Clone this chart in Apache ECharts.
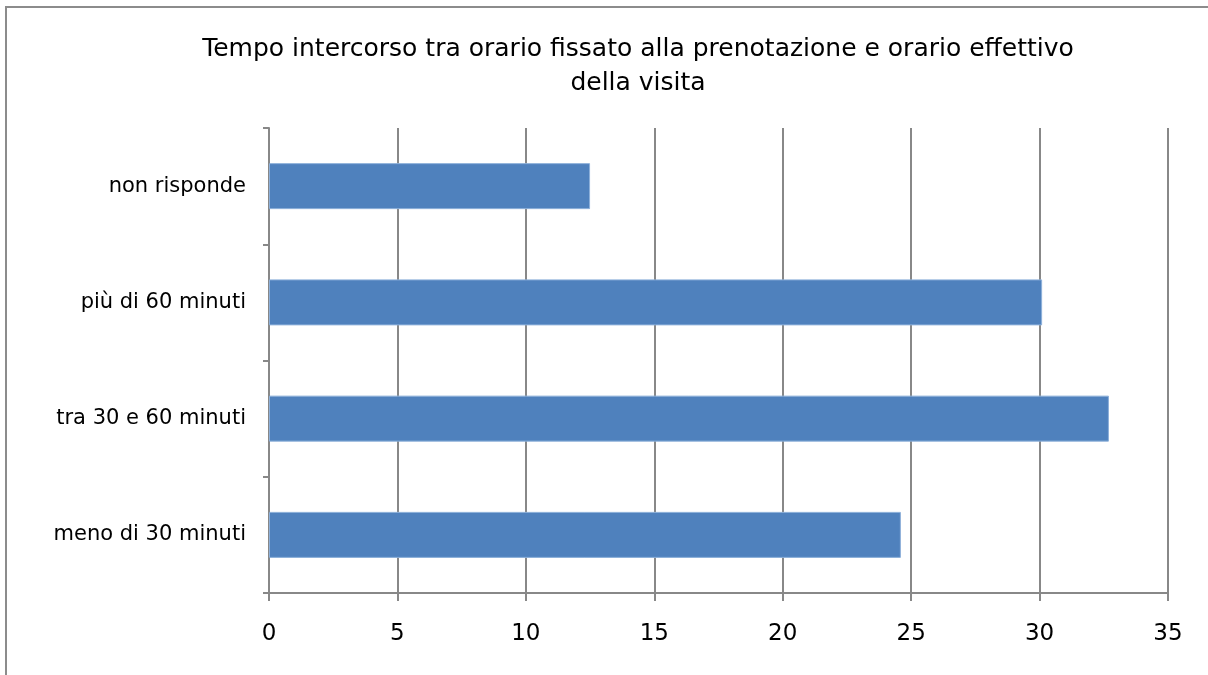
<!DOCTYPE html>
<html>
<head>
<meta charset="utf-8">
<script src="https://cdn.jsdelivr.net/npm/echarts@6/dist/echarts.min.js"></script>
<style>
  html, body { margin: 0; padding: 0; background: #fff; }
  #frame {
    position: absolute; left: 5px; top: 6px; width: 1210px; height: 700px;
    border-left: 2px solid #8c8c8c; border-top: 2px solid #8c8c8c;
    box-sizing: border-box;
  }
  #chart { position: absolute; left: 0; top: 0; width: 1208px; height: 675px; }
</style>
</head>
<body>
<div id="frame"></div>
<div id="chart"></div>
<script>
  // categories from bottom to top
  const categories = ['meno di 30 minuti', 'tra 30 e 60 minuti', 'più di 60 minuti', 'non risponde']
  const values = [24.6, 32.7, 30.1, 12.5]
  const titleText = 'Tempo intercorso tra orario fissato alla prenotazione e orario effettivo\ndella visita'

  const axisColor = '#888888'
  const font = '"DejaVu Sans", sans-serif'

  const chart = echarts.init(document.getElementById('chart'))
  chart.setOption({
    animation: false,
    title: {
      text: titleText,
      left: 633,
      top: 27,
      textAlign: 'center',
      textStyle: {
        fontFamily: font,
        fontWeight: 'normal',
        fontSize: 25,
        lineHeight: 34,
        color: '#000'
      }
    },
    grid: {
      left: 269,
      right: 40,
      top: 128,
      bottom: 82
    },
    xAxis: {
      type: 'value',
      min: 0,
      max: 35,
      interval: 5,
      axisLine: { show: true, lineStyle: { color: axisColor, width: 2 } },
      axisTick: { show: true, length: 8, lineStyle: { color: axisColor, width: 2 } },
      axisLabel: {
        margin: 30,
        fontFamily: font,
        fontSize: 23,
        color: '#000'
      },
      splitLine: { show: true, lineStyle: { color: axisColor, width: 2 } }
    },
    yAxis: {
      type: 'category',
      data: categories,
      axisLine: { show: true, lineStyle: { color: axisColor, width: 2 } },
      axisTick: { show: true, length: 6, lineStyle: { color: axisColor, width: 2 } },
      axisLabel: {
        margin: 23,
        fontFamily: font,
        fontSize: 21,
        color: '#000'
      },
      splitLine: { show: false }
    },
    series: [{
      type: 'bar',
      data: values,
      barWidth: 46,
      itemStyle: {
        color: '#4F81BD',
        borderColor: '#8DB0DA',
        borderWidth: 1
      }
    }]
  })
</script>
</body>
</html>
